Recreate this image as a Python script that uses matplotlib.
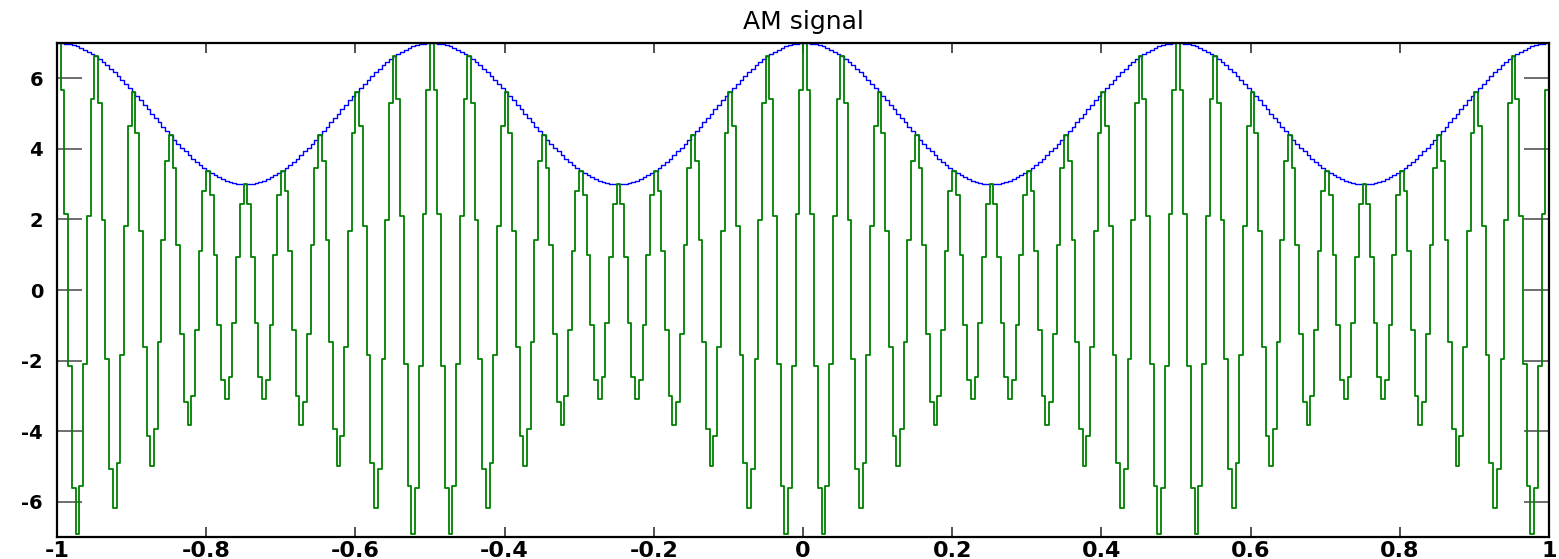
import numpy as np
import matplotlib
matplotlib.use("Agg")
import matplotlib.pyplot as plt

# AM signal parameters
carrier_freq = 20.0   # Hz
mod_freq = 2.0        # Hz
dc_level = 5.0
mod_depth = 2.0
dt = 0.005            # sampling step

x_ticks = [-1, -0.8, -0.6, -0.4, -0.2, 0, 0.2, 0.4, 0.6, 0.8, 1]
x_labels = ["-1", "-0.8", "-0.6", "-0.4", "-0.2", "0", "0.2", "0.4", "0.6", "0.8", "1"]
y_ticks = [-6, -4, -2, 0, 2, 4, 6]
y_labels = ["-6", "-4", "-2", "0", "2", "4", "6"]

t = np.arange(-1, 1 + dt / 2, dt)
envelope = dc_level + mod_depth * np.cos(2 * np.pi * mod_freq * t)
am = envelope * np.cos(2 * np.pi * carrier_freq * t)

plt.rcParams['font.family'] = ['DejaVu Sans']

fig = plt.figure(figsize=(15.59, 5.59), dpi=100)
ax = fig.add_axes([57 / 1559, 1 - 537 / 559, (1549 - 57) / 1559, (537 - 43) / 559])

ax.plot(t, envelope, color='#0000ff', lw=1.0, drawstyle='steps-post')
ax.plot(t, am, color='#008000', lw=1.3, drawstyle='steps-post')

ax.set_xlim(-1, 1)
ax.set_ylim(-7, 7)
ax.set_xticks(x_ticks)
ax.set_xticklabels(x_labels)
ax.set_yticks(y_ticks)
ax.set_yticklabels(y_labels)
ax.tick_params(axis='x', direction='in', length=7, width=1.2, top=True,
               labelsize=16, pad=3, color='#333333')
ax.tick_params(axis='y', direction='in', length=18, width=1.2, right=True,
               labelsize=14, pad=10, color='#555555')
for lab in ax.get_xticklabels() + ax.get_yticklabels():
    lab.set_fontweight('bold')
for sp in ax.spines.values():
    sp.set_linewidth(1.6)

ax.set_title("AM signal", fontsize=18, pad=10)

fig.savefig("out.png", dpi=100)
